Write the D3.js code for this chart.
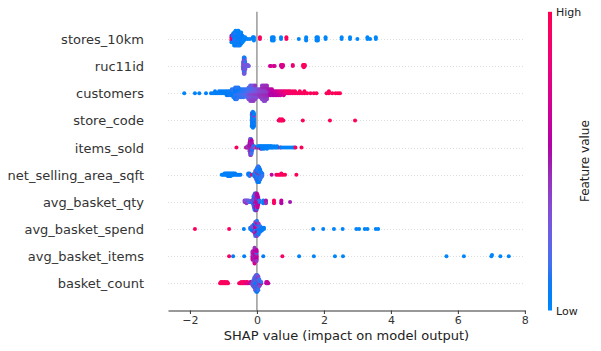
<!DOCTYPE html>
<html><head><meta charset="utf-8">
<script src="https://cdn.jsdelivr.net/npm/d3@7"></script>
<style>body{margin:0;background:#fff;} text{font-family:"DejaVu Sans",sans-serif;}</style>
</head><body><svg id="c" width="601" height="351"></svg>
<script>
// ---------- data ----------
const features = ["stores_10km","ruc11id","customers","store_code","items_sold",
  "net_selling_area_sqft","avg_basket_qty","avg_basket_spend","avg_basket_items","basket_count"];
const xTicks = [-2,0,2,4,6,8];
const colorbarLabels = ["Low","High"];
const xLabel = "SHAP value (impact on model output)";
const colorbarTitle = "Feature value";

// each entry: [shap value, normalised feature value]
const stores10km = [
 [-0.76,0.95],[-0.76,0.70],[-0.76,0.90],[-0.76,0.50],[-0.76,0.06],
 [-0.72,0.75],[-0.72,0.88],[-0.72,0.55],[-0.72,0.10],[-0.72,0.05],[-0.72,0.08],
 [-0.68,0.10],[-0.68,0.05],[-0.68,0.12],[-0.68,0.08],[-0.68,0.04],[-0.68,0.11],[-0.68,0.07],[-0.68,0.09],[-0.68,0.06],
 [-0.64,0.09],[-0.64,0.06],[-0.64,0.12],[-0.64,0.04],[-0.64,0.10],[-0.64,0.08],[-0.64,0.05],[-0.64,0.13],[-0.64,0.07],[-0.64,0.03],
 [-0.59,0.08],[-0.59,0.11],[-0.59,0.05],[-0.59,0.09],[-0.59,0.06],[-0.59,0.12],[-0.59,0.04],[-0.59,0.10],[-0.59,0.07],[-0.59,0.05],
 [-0.55,0.07],[-0.55,0.10],[-0.55,0.04],[-0.55,0.08],[-0.55,0.12],[-0.55,0.06],[-0.55,0.09],[-0.55,0.05],[-0.55,0.11],[-0.55,0.03],
 [-0.51,0.06],[-0.51,0.09],[-0.51,0.04],[-0.51,0.11],[-0.51,0.07],[-0.51,0.05],[-0.51,0.10],[-0.51,0.08],[-0.51,0.03],
 [-0.47,0.05],[-0.47,0.08],[-0.47,0.10],[-0.47,0.04],[-0.47,0.07],[-0.47,0.06],[-0.47,0.09],[-0.47,0.03],
 [-0.43,0.04],[-0.43,0.07],[-0.43,0.05],[-0.43,0.09],[-0.43,0.03],
 [-0.39,0.04],[-0.39,0.06],[-0.39,0.03],
 [-0.35,0.04],[-0.35,0.03],
 [-0.28,0.04],[-0.21,0.03],
 [-0.12,0.05],[-0.12,0.08],[-0.09,0.04],[-0.09,0.06],[-0.09,0.03],
 [0.09,0.90],[0.09,0.96],
 [0.45,0.04],[0.45,0.03],[0.45,0.05],[0.50,0.03],[0.50,0.04],[0.50,0.02],
 [0.72,0.03],[0.72,0.02],
 [0.88,0.92],[0.88,0.97],
 [1.25,0.02],
 [1.47,0.02],[1.47,0.01],[1.47,0.03],
 [1.78,0.02],[1.78,0.01],[1.78,0.03],[1.82,0.02],[1.82,0.01],[1.82,0.03],
 [2.05,0.01],[2.05,0.02],
 [2.53,0.01],[2.53,0.00],[2.78,0.01],[2.78,0.00],[3.00,0.01],
 [3.30,0.00],[3.30,0.01],[3.38,0.00],[3.55,0.00],[3.55,0.01]
];
const ruc11id = [
 [-0.41,0.30],[-0.41,0.15],[-0.41,0.32],[-0.41,0.28],[-0.41,0.12],[-0.41,0.33],[-0.41,0.30],[-0.41,0.18],
 [-0.39,0.32],[-0.39,0.28],[-0.39,0.35],[-0.39,0.30],[-0.39,0.25],[-0.39,0.33],[-0.39,0.15],[-0.39,0.31],
 [-0.39,0.29],[-0.39,0.34],[-0.39,0.12],[-0.39,0.30],[-0.39,0.27],[-0.39,0.14],[-0.39,0.32],[-0.39,0.10],
 [-0.37,0.33],[-0.37,0.30],[-0.37,0.36],[-0.37,0.29],[-0.37,0.40],[-0.37,0.31],[-0.37,0.27],[-0.37,0.34],
 [-0.37,0.14],[-0.37,0.32],[-0.37,0.30],[-0.37,0.38],[-0.37,0.12],[-0.37,0.33],[-0.37,0.28],[-0.37,0.10],
 [-0.35,0.32],[-0.35,0.29],[-0.35,0.35],[-0.35,0.30],[-0.35,0.16],[-0.35,0.33],[-0.35,0.31],[-0.35,0.13],
 [-0.30,0.20],[-0.30,0.28],[-0.27,0.25],[-0.27,0.30],[-0.24,0.28],
 [0.39,0.66],[0.42,0.68],[0.50,0.70],[0.53,0.69],
 [0.72,0.70],[0.72,0.73],[0.75,0.72],[0.75,0.70],[0.75,0.74],[0.78,0.71],[0.78,0.73],
 [1.07,0.80],[1.07,0.84],
 [1.38,0.94],[1.38,0.96],[1.40,0.95],[1.40,0.97],[1.40,0.93],[1.43,0.96],[1.43,0.95]
];
const customers = [
 [-2.17,0.03],[-1.85,0.04],[-1.72,0.03],[-1.52,0.05],
 [-1.37,0.05],[-1.31,0.06],[-1.25,0.05],[-1.25,0.07],[-1.19,0.06],[-1.13,0.05],[-1.13,0.08],
 [-1.07,0.06],[-1.07,0.07],[-1.01,0.05],[-1.01,0.08],[-0.95,0.07],[-0.95,0.06],
 [-0.90,0.08],[-0.90,0.06],[-0.90,0.09],[-0.85,0.07],[-0.85,0.10],[-0.85,0.08],
 [-0.80,0.09],[-0.80,0.07],[-0.80,0.11],
 [-0.75,0.08],[-0.75,0.10],[-0.75,0.07],[-0.75,0.12],
 [-0.70,0.09],[-0.70,0.11],[-0.70,0.08],[-0.70,0.13],[-0.70,0.10],
 [-0.65,0.10],[-0.65,0.08],[-0.65,0.12],[-0.65,0.09],[-0.65,0.14],[-0.65,0.11],[-0.65,0.07],
 [-0.60,0.11],[-0.60,0.09],[-0.60,0.13],[-0.60,0.10],[-0.60,0.08],[-0.60,0.12],[-0.60,0.14],
 [-0.55,0.12],[-0.55,0.10],[-0.55,0.14],[-0.55,0.09],[-0.55,0.13],[-0.55,0.11],
 [-0.50,0.13],[-0.50,0.11],[-0.50,0.15],[-0.50,0.10],[-0.50,0.12],
 [-0.45,0.14],[-0.45,0.12],[-0.45,0.16],[-0.45,0.11],[-0.45,0.13],
 [-0.40,0.15],[-0.40,0.13],[-0.40,0.17],[-0.40,0.12],[-0.40,0.14],
 [-0.35,0.16],[-0.35,0.14],[-0.35,0.18],[-0.35,0.13],
 [-0.30,0.18],[-0.30,0.15],[-0.30,0.20],[-0.30,0.14],[-0.30,0.17],
 [-0.25,0.28],[-0.25,0.18],[-0.25,0.32],[-0.25,0.15],[-0.25,0.25],[-0.25,0.20],[-0.25,0.30],
 [-0.20,0.30],[-0.20,0.22],[-0.20,0.35],[-0.20,0.18],[-0.20,0.28],[-0.20,0.15],[-0.20,0.33],[-0.20,0.25],[-0.20,0.38],
 [-0.15,0.32],[-0.15,0.25],[-0.15,0.36],[-0.15,0.20],[-0.15,0.30],[-0.15,0.17],[-0.15,0.34],[-0.15,0.27],[-0.15,0.40],
 [-0.10,0.33],[-0.10,0.27],[-0.10,0.38],[-0.10,0.22],[-0.10,0.31],[-0.10,0.19],[-0.10,0.36],[-0.10,0.29],[-0.10,0.42],
 [-0.05,0.35],[-0.05,0.28],[-0.05,0.40],[-0.05,0.24],[-0.05,0.33],[-0.05,0.30],[-0.05,0.38],[-0.05,0.43],
 [0.00,0.36],[0.00,0.30],[0.00,0.40],[0.00,0.26],[0.00,0.34],
 [0.05,0.38],[0.05,0.34],[0.05,0.42],[0.05,0.36],
 [0.10,0.40],[0.10,0.36],[0.10,0.44],[0.10,0.38],[0.10,0.42],
 [0.15,0.40],[0.15,0.37],[0.15,0.44],[0.15,0.38],[0.15,0.42],[0.15,0.46],[0.15,0.39],[0.15,0.41],
 [0.20,0.41],[0.20,0.38],[0.20,0.45],[0.20,0.39],[0.20,0.43],[0.20,0.47],[0.20,0.40],[0.20,0.44],[0.20,0.36],
 [0.25,0.42],[0.25,0.39],[0.25,0.46],[0.25,0.40],[0.25,0.44],[0.25,0.48],[0.25,0.41],[0.25,0.45],[0.25,0.37],
 [0.30,0.43],[0.30,0.40],[0.30,0.47],[0.30,0.42],[0.30,0.45],[0.30,0.49],[0.30,0.41],[0.30,0.46],
 [0.35,0.45],[0.35,0.42],[0.35,0.48],[0.35,0.50],
 [0.40,0.55],[0.40,0.50],[0.40,0.58],[0.40,0.52],
 [0.45,0.56],[0.45,0.60],[0.45,0.53],[0.45,0.62],
 [0.50,0.58],[0.50,0.62],[0.50,0.55],
 [0.55,0.60],[0.55,0.64],[0.55,0.58],
 [0.60,0.62],[0.60,0.66],[0.60,0.60],
 [0.65,0.65],[0.65,0.70],[0.65,0.62],
 [0.70,0.68],[0.70,0.74],[0.70,0.66],
 [0.75,0.72],[0.75,0.78],
 [0.80,0.75],[0.80,0.82],[0.80,0.70],
 [0.85,0.80],[0.85,0.86],
 [0.90,0.84],[0.90,0.88],
 [0.95,0.86],[0.95,0.90],
 [1.00,0.88],[1.00,0.92],[1.07,0.90],[1.07,0.94],[1.14,0.92],[1.14,0.95],[1.21,0.93],
 [1.28,0.94],[1.28,0.96],[1.35,0.95],[1.42,0.96],[1.42,0.97],[1.50,0.96],[1.60,0.97],[1.70,0.97],[1.78,0.98],
 [2.08,0.97],[2.15,0.98],[2.15,0.96],[2.25,0.98],[2.35,0.99],[2.42,0.98],[2.48,0.99]
];
const storeCode = [
 [-0.15,0.08],[-0.15,0.05],[-0.15,0.10],[-0.15,0.06],[-0.15,0.12],[-0.15,0.04],[-0.15,0.09],[-0.15,0.07],[-0.15,0.11],[-0.15,0.05],[-0.15,0.08],[-0.15,0.06],
 [-0.12,0.07],[-0.12,0.10],[-0.12,0.05],[-0.12,0.12],[-0.12,0.06],[-0.12,0.09],[-0.12,0.04],[-0.12,0.11],[-0.12,0.08],[-0.12,0.45],[-0.12,0.07],[-0.12,0.50],[-0.12,0.06],[-0.12,0.10],
 [-0.09,0.09],[-0.09,0.06],[-0.09,0.11],[-0.09,0.05],[-0.09,0.08],[-0.09,0.12],[-0.09,0.07],[-0.09,0.42],[-0.09,0.10],[-0.09,0.06],[-0.09,0.09],[-0.09,0.05],
 [0.65,0.94],[0.68,0.96],[0.68,0.93],[0.72,0.95],[0.75,0.97],[0.75,0.94],[0.79,0.96],
 [1.37,0.97],[2.18,0.98],[2.93,0.99]
];
const itemsSold = [
 [-0.61,0.95],
 [-0.33,0.45],[-0.30,0.92],[-0.28,0.50],[-0.28,0.40],
 [-0.22,0.45],[-0.22,0.60],[-0.22,0.40],[-0.22,0.65],[-0.22,0.35],[-0.22,0.50],[-0.22,0.15],[-0.22,0.55],
 [-0.20,0.50],[-0.20,0.62],[-0.20,0.42],[-0.20,0.68],[-0.20,0.45],[-0.20,0.58],[-0.20,0.38],[-0.20,0.64],[-0.20,0.12],[-0.20,0.52],[-0.20,0.47],[-0.20,0.70],[-0.20,0.30],[-0.20,0.55],
 [-0.18,0.55],[-0.18,0.45],[-0.18,0.66],[-0.18,0.40],[-0.18,0.60],[-0.18,0.48],[-0.18,0.72],[-0.18,0.10],[-0.18,0.52],[-0.18,0.62],[-0.18,0.36],[-0.18,0.58],[-0.18,0.44],[-0.18,0.14],
 [-0.16,0.48],[-0.16,0.60],[-0.16,0.42],[-0.16,0.66],[-0.16,0.12],[-0.16,0.54],[-0.16,0.46],[-0.16,0.62],[-0.16,0.38],[-0.16,0.50],[-0.16,0.15],[-0.16,0.56],
 [-0.14,0.45],[-0.14,0.58],[-0.14,0.40],[-0.14,0.62],[-0.14,0.10],[-0.14,0.50],
 [-0.11,0.40],[-0.11,0.12],[-0.08,0.35],[-0.08,0.10],[-0.05,0.30],
 [0.00,0.92],[0.03,0.08],[0.03,0.06],[0.06,0.90],[0.06,0.07],[0.09,0.06],[0.09,0.09],
 [0.12,0.07],[0.12,0.05],[0.12,0.62],[0.15,0.06],[0.15,0.08],[0.15,0.05],[0.18,0.07],[0.18,0.04],
 [0.21,0.06],[0.21,0.05],[0.21,0.08],[0.24,0.05],[0.24,0.07],[0.27,0.06],[0.27,0.04],
 [0.30,0.05],[0.30,0.07],[0.30,0.04],[0.33,0.06],[0.33,0.05],[0.36,0.04],[0.36,0.06],
 [0.39,0.05],[0.39,0.03],[0.42,0.04],[0.42,0.06],[0.45,0.03],[0.45,0.05],[0.48,0.04],
 [0.52,0.03],[0.52,0.05],[0.56,0.04],[0.60,0.03],[0.60,0.05],[0.64,0.04],[0.70,0.93],
 [0.72,0.03],[0.78,0.04],[0.84,0.03],[0.90,0.02],[0.96,0.03],[1.02,0.02],[1.08,0.03],[1.12,0.02],
 [1.15,0.96],[1.33,0.98]
];
const netSellingArea = [
 [-1.05,0.03],[-1.01,0.04],[-0.97,0.03],[-0.97,0.05],[-0.93,0.04],[-0.93,0.06],[-0.90,0.03],[-0.90,0.05],
 [-0.87,0.04],[-0.87,0.06],[-0.87,0.03],[-0.84,0.05],[-0.84,0.04],[-0.84,0.07],[-0.81,0.05],[-0.81,0.03],[-0.81,0.06],
 [-0.78,0.04],[-0.78,0.06],[-0.78,0.05],[-0.75,0.05],[-0.75,0.07],[-0.72,0.06],[-0.72,0.04],[-0.69,0.05],[-0.69,0.07],
 [-0.65,0.06],[-0.65,0.08],[-0.61,0.07],[-0.57,0.06],[-0.53,0.08],[-0.49,0.07],
 [-0.26,0.08],[-0.26,0.10],[-0.22,0.09],[-0.22,0.07],[-0.22,0.11],
 [-0.14,0.93],
 [-0.08,0.10],[-0.08,0.08],[-0.08,0.12],
 [-0.05,0.09],[-0.05,0.11],[-0.05,0.07],[-0.05,0.13],[-0.05,0.10],[-0.05,0.40],
 [-0.02,0.10],[-0.02,0.12],[-0.02,0.08],[-0.02,0.14],[-0.02,0.09],[-0.02,0.11],[-0.02,0.45],[-0.02,0.07],[-0.02,0.13],
 [0.01,0.11],[0.01,0.09],[0.01,0.13],[0.01,0.90],[0.01,0.10],[0.01,0.12],[0.01,0.08],[0.01,0.14],[0.01,0.11],[0.01,0.09],[0.01,0.42],[0.01,0.12],[0.01,0.10],
 [0.04,0.92],[0.04,0.10],[0.04,0.12],[0.04,0.09],[0.04,0.14],[0.04,0.11],[0.04,0.08],[0.04,0.13],[0.04,0.10],[0.04,0.12],[0.04,0.09],[0.04,0.11],[0.04,0.07],[0.04,0.13],
 [0.07,0.10],[0.07,0.88],[0.07,0.12],[0.07,0.09],[0.07,0.13],[0.07,0.11],[0.07,0.08],[0.07,0.14],[0.07,0.10],[0.07,0.12],[0.07,0.09],[0.07,0.11],[0.07,0.07],
 [0.10,0.94],[0.10,0.12],[0.10,0.10],[0.10,0.13],[0.10,0.09],[0.10,0.11],[0.10,0.14],[0.10,0.08],[0.10,0.12],
 [0.13,0.90],[0.13,0.11],[0.13,0.13],[0.13,0.10],[0.13,0.12],
 [0.16,0.12],[0.16,0.10],[0.16,0.14],
 [0.44,0.62],
 [0.58,0.93],[0.63,0.95],[0.68,0.94],[0.73,0.96],[0.73,0.93],[0.78,0.95],[0.84,0.97],
 [1.18,0.98]
];
const avgBasketQty = [
 [-0.37,0.32],[-0.37,0.40],[-0.34,0.45],[-0.34,0.30],[-0.31,0.35],[-0.31,0.28],[-0.31,0.42],
 [-0.28,0.38],[-0.28,0.30],[-0.25,0.33],[-0.25,0.25],[-0.22,0.20],[-0.19,0.15],
 [-0.16,0.10],[-0.16,0.30],[-0.13,0.08],[-0.13,0.35],[-0.13,0.12],
 [-0.10,0.10],[-0.10,0.35],[-0.10,0.08],[-0.10,0.12],[-0.10,0.40],[-0.10,0.06],[-0.10,0.11],[-0.10,0.09],
 [-0.08,0.12],[-0.08,0.45],[-0.08,0.08],[-0.08,0.30],[-0.08,0.10],[-0.08,0.50],[-0.08,0.07],[-0.08,0.14],[-0.08,0.09],[-0.08,0.40],[-0.08,0.11],
 [-0.06,0.35],[-0.06,0.10],[-0.06,0.55],[-0.06,0.08],[-0.06,0.42],[-0.06,0.12],[-0.06,0.60],[-0.06,0.09],[-0.06,0.30],[-0.06,0.11],[-0.06,0.48],[-0.06,0.07],[-0.06,0.13],
 [-0.04,0.50],[-0.04,0.12],[-0.04,0.62],[-0.04,0.40],[-0.04,0.10],[-0.04,0.58],[-0.04,0.45],[-0.04,0.08],[-0.04,0.65],[-0.04,0.35],[-0.04,0.11],[-0.04,0.55],[-0.04,0.09],
 [-0.02,0.62],[-0.02,0.50],[-0.02,0.68],[-0.02,0.45],[-0.02,0.12],[-0.02,0.65],[-0.02,0.55],[-0.02,0.10],[-0.02,0.70],[-0.02,0.48],[-0.02,0.60],[-0.02,0.14],[-0.02,0.52],
 [0.00,0.65],[0.00,0.55],[0.00,0.70],[0.00,0.48],[0.00,0.62],[0.00,0.12],[0.00,0.68],[0.00,0.58],[0.00,0.45],[0.00,0.66],[0.00,0.10],[0.00,0.60],
 [0.02,0.62],[0.02,0.68],[0.02,0.55],[0.02,0.65],[0.02,0.12],[0.02,0.60],[0.02,0.70],[0.02,0.50],[0.02,0.64],[0.02,0.58],
 [0.04,0.60],[0.04,0.66],[0.04,0.52],[0.04,0.10],[0.04,0.62],[0.04,0.56],
 [0.08,0.10],[0.08,0.12],
 [0.19,0.08],[0.19,0.10],[0.19,0.06],
 [0.27,0.48],[0.27,0.52],[0.27,0.45],
 [0.51,0.94],[0.51,0.96],[0.51,0.92],
 [0.73,0.58],[0.73,0.62],[0.73,0.55],
 [0.99,0.50]
];
const avgBasketSpend = [
 [-1.85,0.95],[-0.83,0.92],[-0.39,0.06],
 [-0.20,0.08],[-0.20,0.10],
 [-0.15,0.07],[-0.15,0.12],[-0.15,0.09],[-0.15,0.30],
 [-0.10,0.10],[-0.10,0.35],[-0.10,0.08],[-0.10,0.12],[-0.10,0.45],[-0.10,0.09],
 [-0.05,0.62],[-0.05,0.55],[-0.05,0.12],[-0.05,0.66],[-0.05,0.10],[-0.05,0.58],[-0.05,0.45],[-0.05,0.08],[-0.05,0.64],[-0.05,0.40],[-0.05,0.11],
 [0.00,0.65],[0.00,0.60],[0.00,0.10],[0.00,0.68],[0.00,0.55],[0.00,0.12],[0.00,0.62],[0.00,0.48],[0.00,0.09],[0.00,0.66],[0.00,0.42],[0.00,0.11],
 [0.05,0.10],[0.05,0.12],[0.05,0.08],[0.05,0.35],[0.05,0.11],[0.05,0.09],[0.05,0.13],[0.05,0.40],[0.05,0.10],
 [0.10,0.09],[0.10,0.11],[0.10,0.08],[0.10,0.12],[0.10,0.10],
 [0.15,0.08],[0.15,0.10],[0.15,0.07],
 [0.21,0.06],[0.21,0.08],
 [1.68,0.03],[1.98,0.03],[2.30,0.02],[2.56,0.03],[2.97,0.02],[3.05,0.02],[3.22,0.02],[3.30,0.03],[3.55,0.02],[3.62,0.02]
];
const avgBasketItems = [
 [-0.83,0.94],[-0.71,0.08],[-0.38,0.06],
 [-0.13,0.62],[-0.13,0.48],[-0.13,0.66],[-0.13,0.42],[-0.13,0.60],[-0.13,0.52],[-0.13,0.68],[-0.13,0.45],
 [-0.07,0.10],[-0.07,0.62],[-0.07,0.50],[-0.07,0.66],[-0.07,0.45],[-0.07,0.60],[-0.07,0.55],[-0.07,0.68],[-0.07,0.40],[-0.07,0.64],[-0.07,0.48],[-0.07,0.58],[-0.07,0.70],[-0.07,0.44],
 [-0.01,0.60],[-0.01,0.52],[-0.01,0.66],[-0.01,0.45],[-0.01,0.62],[-0.01,0.12],[-0.01,0.56],[-0.01,0.68],[-0.01,0.42],[-0.01,0.58],
 [0.19,0.07],[0.76,0.92],
 [1.26,0.04],[1.70,0.03],[2.33,0.03],[2.57,0.02],
 [5.66,0.02],[6.18,0.01],[7.00,0.01],[7.02,0.02],[7.27,0.01],[7.52,0.01]
];
const basketCount = [
 [-1.10,0.96],[-1.07,0.95],[-1.07,0.97],[-1.04,0.94],[-1.04,0.96],[-1.01,0.95],[-0.98,0.97],[-0.98,0.93],
 [-0.95,0.96],[-0.95,0.94],[-0.92,0.95],[-0.89,0.97],[-0.89,0.93],[-0.86,0.95],
 [-0.53,0.94],[-0.50,0.92],[-0.47,0.95],[-0.47,0.90],[-0.44,0.93],[-0.41,0.88],[-0.41,0.94],[-0.38,0.92],[-0.38,0.85],
 [-0.35,0.90],[-0.32,0.72],[-0.32,0.88],[-0.29,0.70],[-0.29,0.92],[-0.26,0.75],
 [-0.20,0.55],[-0.20,0.85],[-0.17,0.45],[-0.17,0.65],
 [-0.14,0.35],[-0.14,0.50],[-0.14,0.12],
 [-0.11,0.30],[-0.11,0.10],[-0.11,0.45],[-0.11,0.15],[-0.11,0.38],
 [-0.08,0.12],[-0.08,0.35],[-0.08,0.10],[-0.08,0.42],[-0.08,0.14],[-0.08,0.30],[-0.08,0.09],[-0.08,0.40],
 [-0.05,0.08],[-0.05,0.12],[-0.05,0.38],[-0.05,0.10],[-0.05,0.45],[-0.05,0.09],[-0.05,0.32],[-0.05,0.13],[-0.05,0.42],[-0.05,0.11],[-0.05,0.35],
 [-0.02,0.06],[-0.02,0.10],[-0.02,0.08],[-0.02,0.40],[-0.02,0.12],[-0.02,0.35],[-0.02,0.09],[-0.02,0.45],[-0.02,0.11],[-0.02,0.30],[-0.02,0.13],[-0.02,0.42],[-0.02,0.10],
 [0.01,0.05],[0.01,0.09],[0.01,0.07],[0.01,0.12],[0.01,0.38],[0.01,0.10],[0.01,0.44],[0.01,0.08],[0.01,0.33],[0.01,0.11],[0.01,0.40],[0.01,0.13],[0.01,0.09],
 [0.04,0.08],[0.04,0.35],[0.04,0.11],[0.04,0.42],[0.04,0.09],[0.04,0.30],[0.04,0.12],[0.04,0.45],[0.04,0.10],[0.04,0.38],[0.04,0.13],
 [0.07,0.40],[0.07,0.12],[0.07,0.50],[0.07,0.10],[0.07,0.35],[0.07,0.14],
 [0.10,0.45],[0.10,0.12],[0.10,0.38],
 [0.13,0.50],[0.13,0.15],
 [0.28,0.65],[0.28,0.60],[0.31,0.50],[0.31,0.68],[0.34,0.62]
];
const rows = [stores10km, ruc11id, customers, storeCode, itemsSold,
  netSellingArea, avgBasketQty, avgBasketSpend, avgBasketItems, basketCount];

// ---------- helpers ----------
function shapColor(t){
  t = Math.max(0, Math.min(1, t));
  const l = t < 0.5 ? 54 + (40-54)*(t/0.5) : 40 + (54-40)*((t-0.5)/0.5);
  const c = 70 + 20*t;
  const h = 266.93 + (380.32-266.93)*t;
  return d3.hcl(h % 360, c, l).formatHex();
}
function beeswarm(vals){
  const N = vals.length, mn = d3.min(vals), mx = d3.max(vals);
  const quant = vals.map(v => Math.round(100*(v-mn)/(mx-mn+1e-8)));
  const inds = d3.range(N).sort((a,b) => quant[a]-quant[b] || a-b);
  const ys = new Array(N).fill(0);
  let layer = 0, last = -1;
  for (const i of inds){
    if (quant[i] !== last) layer = 0;
    ys[i] = Math.ceil(layer/2) * ((layer%2)*2-1);
    layer++; last = quant[i];
  }
  const m = d3.max(ys, v => v+1);
  return ys.map(v => v*0.9*(0.4/m));
}

// ---------- scales ----------
const svg = d3.select("#c");
const allVals = rows.flat().map(d => d[0]);
const [mn, mx] = d3.extent(allVals);
const pad = 0.05*(mx-mn);
const x = d3.scaleLinear().domain([mn-pad, mx+pad]).range([168, 525]);
const y = d3.scaleLinear().domain([-1, features.length]).range([310.5, 11.8]);
const pos = i => features.length - 1 - i;

// grid lines
svg.append("g").selectAll("line").data(features).join("line")
  .attr("x1", x.range()[0]).attr("x2", x.range()[1])
  .attr("y1", (d,i) => Math.round(y(pos(i)))+0.5).attr("y2", (d,i) => Math.round(y(pos(i)))+0.5)
  .attr("stroke", "#dcdcdc").attr("stroke-width", 1).attr("stroke-dasharray", "1,2");

// zero line
svg.append("line").attr("x1", x(0)).attr("x2", x(0))
  .attr("y1", y(-1)).attr("y2", y(features.length))
  .attr("stroke", "#999").attr("stroke-width", 1.5);

// dots (bottom feature drawn first)
const dotG = svg.append("g");
for (let i = features.length-1; i >= 0; i--){
  const data = rows[i];
  const ys = beeswarm(data.map(d => d[0]));
  dotG.append("g").selectAll("circle").data(data).join("circle")
    .attr("cx", d => x(d[0]))
    .attr("cy", (d,k) => y(pos(i) + ys[k]))
    .attr("r", 2)
    .attr("fill", d => shapColor(d[1]));
}

// y labels
svg.append("g").selectAll("text").data(features).join("text")
  .attr("x", 144).attr("y", (d,i) => y(pos(i)) + 5)
  .attr("text-anchor", "end").attr("font-size", 13).attr("fill", "#333")
  .text(d => d);

// x axis
const ax = svg.append("g").attr("transform", "translate(0,310.5)")
  .call(d3.axisBottom(x).tickValues(xTicks).tickSize(3.5).tickSizeOuter(0).tickPadding(2.5));
ax.select(".domain").attr("stroke", "#333");
ax.selectAll(".tick line").attr("stroke", "#333");
ax.selectAll(".tick text").attr("fill", "#333").attr("font-size", 11)
  .attr("font-family", "DejaVu Sans");
svg.append("text").attr("x", (x.range()[0]+x.range()[1])/2).attr("y", 340)
  .attr("text-anchor", "middle").attr("font-size", 13).attr("fill", "#222").text(xLabel);

// colorbar
const defs = svg.append("defs");
const grad = defs.append("linearGradient").attr("id", "cb")
  .attr("x1", 0).attr("y1", 1).attr("x2", 0).attr("y2", 0);
grad.selectAll("stop").data(d3.range(0, 1.0001, 0.05)).join("stop")
  .attr("offset", d => d).attr("stop-color", d => shapColor(d));
const cbY = d3.scaleLinear().domain([0, 1]).range([310.5, 11.8]);
svg.append("rect").attr("x", 548).attr("width", 4)
  .attr("y", cbY(1)).attr("height", cbY(0)-cbY(1)).attr("fill", "url(#cb)");
svg.append("g").selectAll("text").data(colorbarLabels).join("text")
  .attr("x", 556).attr("y", (d,i) => cbY(i) + 4)
  .attr("font-size", 11).attr("fill", "#222").text(d => d);
svg.append("text").attr("transform", "translate(589," + cbY(0.5) + ") rotate(-90)")
  .attr("text-anchor", "middle").attr("font-size", 12).attr("fill", "#222").text(colorbarTitle);
</script></body></html>
